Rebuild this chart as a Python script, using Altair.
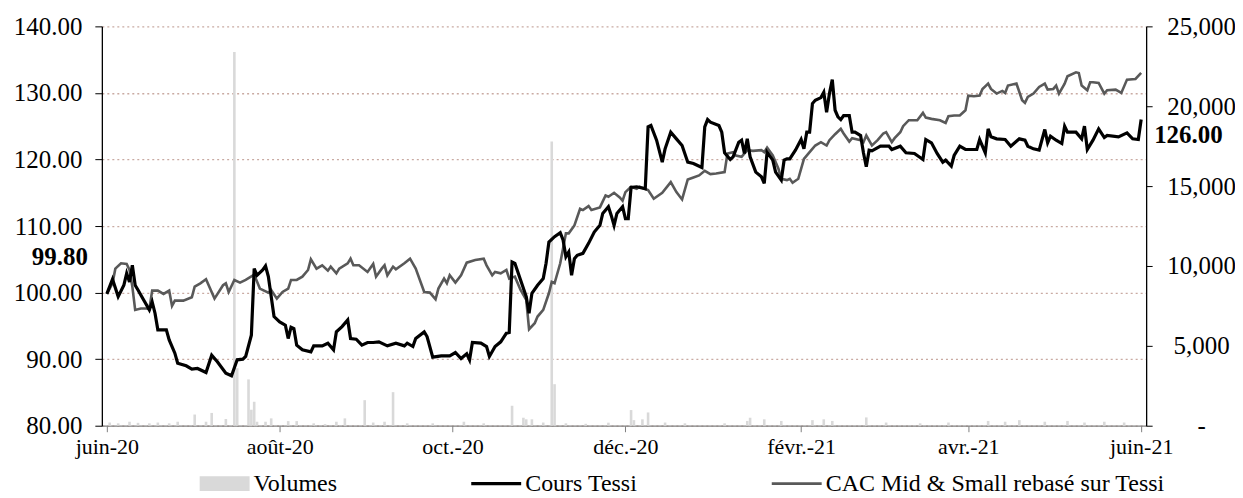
import altair as alt
import pandas as pd

FONT = "Liberation Serif"

tessi_dates = ["2020-06-01","2020-06-03","2020-06-05","2020-06-07","2020-06-08","2020-06-09","2020-06-10","2020-06-11","2020-06-12","2020-06-14",
"2020-06-16","2020-06-17","2020-06-18","2020-06-19","2020-06-22","2020-06-23","2020-06-25","2020-06-26","2020-06-29","2020-07-01",
"2020-07-03","2020-07-06","2020-07-08","2020-07-10","2020-07-13","2020-07-15","2020-07-17","2020-07-19","2020-07-20","2020-07-22",
"2020-07-23","2020-07-24","2020-07-26","2020-07-27","2020-07-28","2020-07-30","2020-08-01","2020-08-03","2020-08-04","2020-08-05",
"2020-08-06","2020-08-07","2020-08-09","2020-08-12","2020-08-13","2020-08-16","2020-08-18","2020-08-20","2020-08-21","2020-08-23",
"2020-08-25","2020-08-26","2020-08-28","2020-08-30","2020-09-01","2020-09-03","2020-09-05","2020-09-08","2020-09-11","2020-09-14",
"2020-09-15","2020-09-17","2020-09-18","2020-09-21","2020-09-22","2020-09-24","2020-09-27","2020-09-30","2020-10-02","2020-10-04",
"2020-10-06","2020-10-07","2020-10-08","2020-10-11","2020-10-13","2020-10-14","2020-10-16","2020-10-18","2020-10-20","2020-10-21",
"2020-10-22","2020-10-23","2020-10-25","2020-10-27","2020-10-28","2020-10-29","2020-10-31","2020-11-02","2020-11-03","2020-11-04",
"2020-11-06","2020-11-08","2020-11-09","2020-11-10","2020-11-11","2020-11-12","2020-11-13","2020-11-14","2020-11-16","2020-11-18",
"2020-11-20","2020-11-22","2020-11-23","2020-11-25","2020-11-26","2020-11-27","2020-11-28","2020-11-30","2020-12-01","2020-12-02",
"2020-12-03","2020-12-05","2020-12-08","2020-12-09","2020-12-10","2020-12-12","2020-12-14","2020-12-15","2020-12-17","2020-12-19",
"2020-12-21","2020-12-23","2020-12-25","2020-12-28","2020-12-29","2020-12-30","2020-12-31","2021-01-03","2021-01-04","2021-01-05",
"2021-01-07","2021-01-08","2021-01-10","2021-01-11","2021-01-12","2021-01-13","2021-01-14","2021-01-16","2021-01-18","2021-01-19",
"2021-01-20","2021-01-22","2021-01-23","2021-01-25","2021-01-26","2021-01-27","2021-01-28","2021-01-30","2021-02-01","2021-02-02",
"2021-02-03","2021-02-04","2021-02-05","2021-02-06","2021-02-08","2021-02-09","2021-02-10","2021-02-11","2021-02-12","2021-02-13",
"2021-02-14","2021-02-15","2021-02-16","2021-02-18","2021-02-19","2021-02-20","2021-02-22","2021-02-23","2021-02-24","2021-02-25",
"2021-02-26","2021-03-01","2021-03-04","2021-03-05","2021-03-08","2021-03-10","2021-03-13","2021-03-16","2021-03-17","2021-03-19",
"2021-03-21","2021-03-23","2021-03-24","2021-03-26","2021-03-27","2021-03-29","2021-03-31","2021-04-04","2021-04-05","2021-04-07",
"2021-04-08","2021-04-09","2021-04-11","2021-04-14","2021-04-16","2021-04-19","2021-04-21","2021-04-22","2021-04-24","2021-04-26",
"2021-04-28","2021-04-29","2021-04-30","2021-05-02","2021-05-04","2021-05-05","2021-05-06","2021-05-09","2021-05-11","2021-05-12",
"2021-05-13","2021-05-15","2021-05-17","2021-05-19","2021-05-20","2021-05-24","2021-05-27","2021-05-29","2021-05-31","2021-06-01"]
tessi_values = [99.8,102.0,99.4,101.1,102.9,101.6,104.1,101.1,100.4,98.9,
97.4,98.6,96.9,94.4,94.4,92.9,90.9,89.4,89.0,88.5,
88.6,88.0,90.6,89.6,87.9,87.5,89.9,90.0,90.4,93.6,
103.6,102.6,103.4,104.0,102.4,96.4,95.6,95.1,93.1,94.8,
94.6,92.1,91.4,91.1,92.0,92.0,92.4,91.4,94.1,94.9,
95.9,93.1,93.0,92.1,92.5,92.5,92.6,92.0,92.4,92.0,
92.4,91.9,93.1,94.1,93.4,90.3,90.5,90.5,91.0,90.1,
90.8,89.9,92.5,92.4,91.9,90.4,91.9,92.6,93.9,94.0,
104.6,104.4,101.9,99.4,96.9,99.9,101.1,102.1,104.4,107.6,
108.4,109.0,107.9,105.4,106.1,102.6,105.1,105.6,105.9,107.4,
109.1,110.1,111.9,112.9,111.6,110.1,111.9,112.9,111.1,111.1,
115.8,115.9,115.6,124.9,125.1,122.9,119.6,121.6,124.1,123.1,
122.1,119.6,119.4,118.8,124.9,126.0,125.6,125.1,124.1,121.0,
120.0,120.4,122.6,122.9,120.9,123.1,120.4,118.1,117.4,116.4,
121.1,119.9,118.1,116.9,119.9,120.1,120.1,121.4,123.0,121.6,
124.1,124.1,128.4,128.9,129.3,130.1,127.1,129.9,132.0,127.4,
126.4,126.0,126.6,126.6,124.1,124.1,123.6,121.0,118.9,121.4,
121.3,122.0,122.0,121.5,122.0,121.0,120.9,120.0,123.0,122.5,
120.9,119.6,119.9,119.0,120.6,122.0,121.5,121.5,123.0,121.0,
124.6,123.4,123.1,123.0,122.0,123.1,122.9,122.0,121.6,121.4,
124.5,122.5,123.5,122.9,122.4,125.0,124.1,124.1,123.1,125.0,
121.5,122.9,124.6,123.3,123.6,123.4,124.0,123.1,123.0,126.0]

cac_dates = ["2020-06-01","2020-06-03","2020-06-04","2020-06-06","2020-06-08","2020-06-09","2020-06-10","2020-06-11","2020-06-13","2020-06-15",
"2020-06-16","2020-06-17","2020-06-19","2020-06-21","2020-06-23","2020-06-24","2020-06-25","2020-06-28","2020-07-01","2020-07-02",
"2020-07-04","2020-07-06","2020-07-09","2020-07-12","2020-07-13","2020-07-14","2020-07-16","2020-07-18","2020-07-20","2020-07-23",
"2020-07-25","2020-07-28","2020-07-29","2020-07-31","2020-08-02","2020-08-04","2020-08-05","2020-08-07","2020-08-09","2020-08-11",
"2020-08-12","2020-08-14","2020-08-16","2020-08-18","2020-08-19","2020-08-21","2020-08-22","2020-08-25","2020-08-26","2020-08-27",
"2020-08-29","2020-09-01","2020-09-03","2020-09-04","2020-09-06","2020-09-07","2020-09-08","2020-09-10","2020-09-11","2020-09-14",
"2020-09-16","2020-09-18","2020-09-21","2020-09-23","2020-09-25","2020-09-26","2020-09-28","2020-09-29","2020-09-30","2020-10-02",
"2020-10-04","2020-10-06","2020-10-09","2020-10-12","2020-10-13","2020-10-15","2020-10-16","2020-10-18","2020-10-20","2020-10-21",
"2020-10-23","2020-10-25","2020-10-27","2020-10-28","2020-10-30","2020-10-31","2020-11-02","2020-11-04","2020-11-05","2020-11-06",
"2020-11-08","2020-11-10","2020-11-11","2020-11-13","2020-11-15","2020-11-16","2020-11-18","2020-11-19","2020-11-22","2020-11-24",
"2020-11-25","2020-11-27","2020-11-29","2020-11-30","2020-12-01","2020-12-03","2020-12-05","2020-12-06","2020-12-09","2020-12-11",
"2020-12-14","2020-12-17","2020-12-19","2020-12-21","2020-12-23","2020-12-25","2020-12-27","2020-12-29","2020-12-31","2021-01-02",
"2021-01-05","2021-01-06","2021-01-08","2021-01-09","2021-01-11","2021-01-13","2021-01-15","2021-01-18","2021-01-19","2021-01-20",
"2021-01-22","2021-01-24","2021-01-25","2021-01-27","2021-01-28","2021-01-29","2021-01-31","2021-02-02","2021-02-04","2021-02-06",
"2021-02-08","2021-02-10","2021-02-11","2021-02-13","2021-02-15","2021-02-16","2021-02-18","2021-02-19","2021-02-22","2021-02-23",
"2021-02-24","2021-02-26","2021-02-28","2021-03-02","2021-03-03","2021-03-05","2021-03-06","2021-03-08","2021-03-09","2021-03-11",
"2021-03-14","2021-03-16","2021-03-17","2021-03-19","2021-03-22","2021-03-24","2021-03-25","2021-03-27","2021-03-29","2021-03-31",
"2021-04-01","2021-04-03","2021-04-05","2021-04-06","2021-04-08","2021-04-09","2021-04-11","2021-04-13","2021-04-14","2021-04-15",
"2021-04-18","2021-04-20","2021-04-21","2021-04-22","2021-04-24","2021-04-26","2021-04-28","2021-04-29","2021-05-01","2021-05-02",
"2021-05-03","2021-05-05","2021-05-06","2021-05-09","2021-05-10","2021-05-11","2021-05-13","2021-05-14","2021-05-15","2021-05-17",
"2021-05-19","2021-05-20","2021-05-23","2021-05-25","2021-05-27","2021-05-30","2021-06-01"]
cac_values = [99.8,101.4,103.6,104.4,104.3,103.4,100.9,97.4,97.6,97.6,
97.5,100.3,100.3,99.8,100.3,98.0,98.8,98.8,99.3,100.9,
101.4,102.0,99.1,101.1,101.4,100.1,101.9,101.5,101.9,102.7,
100.6,100.0,100.4,99.1,100.1,100.6,101.9,101.9,102.4,103.4,
105.0,103.6,104.1,103.3,103.9,102.9,103.6,104.4,105.1,104.1,
104.1,103.1,104.3,102.4,103.6,104.1,102.6,103.9,103.5,104.4,
105.1,103.6,100.1,100.0,99.0,100.6,102.1,101.4,102.6,101.5,
102.6,104.5,104.9,105.1,104.1,102.6,103.1,102.9,103.4,102.1,
102.4,100.4,98.9,94.5,95.4,96.4,97.4,99.9,101.6,101.4,
104.4,108.9,108.9,110.1,112.6,112.4,113.0,112.4,112.8,114.6,
114.4,115.0,114.3,113.8,115.1,115.9,115.6,115.9,115.4,114.1,
115.0,116.6,115.1,114.0,117.0,117.3,117.6,118.3,117.8,117.9,
118.1,120.9,121.1,120.6,120.4,121.4,121.3,121.4,121.1,121.8,
120.6,118.6,117.1,116.9,117.1,116.5,117.1,120.1,121.1,122.1,
122.6,122.1,122.9,123.8,124.6,123.9,122.7,123.2,122.9,122.6,
123.6,122.1,122.9,123.9,124.1,122.6,123.2,124.1,125.0,125.9,
125.9,127.0,126.3,126.1,125.9,125.5,126.5,126.6,126.6,127.4,
129.6,129.5,129.6,130.6,131.4,130.6,129.9,130.3,130.0,131.1,
131.4,128.9,128.5,129.4,129.9,130.9,131.4,130.5,130.6,131.1,
129.9,131.4,132.5,133.1,133.0,131.1,130.4,131.6,131.6,131.5,
129.9,130.4,130.5,130.0,132.0,132.1,133.0]

vol_dates = ["2020-06-02","2020-06-05","2020-06-09","2020-06-12","2020-06-16","2020-06-19","2020-06-23","2020-06-26","2020-07-02","2020-07-06",
"2020-07-08","2020-07-13","2020-07-16","2020-07-17","2020-07-21","2020-07-22","2020-07-23","2020-07-24","2020-07-27","2020-07-29",
"2020-08-04","2020-08-07","2020-08-13","2020-08-17","2020-08-21","2020-08-24","2020-08-31","2020-09-03","2020-09-07","2020-09-10",
"2020-09-15","2020-09-24","2020-10-05","2020-10-12","2020-10-22","2020-10-26","2020-10-27","2020-10-29","2020-11-02","2020-11-05",
"2020-11-06","2020-11-10","2020-11-17","2020-11-25","2020-12-03","2020-12-04","2020-12-07","2020-12-09","2020-12-15","2020-12-22",
"2021-01-05","2021-01-13","2021-01-14","2021-01-19","2021-01-25","2021-02-05","2021-02-09","2021-02-12","2021-02-24","2021-03-03",
"2021-03-15","2021-03-25","2021-04-08","2021-04-14","2021-04-19","2021-04-28","2021-05-06","2021-05-12","2021-05-19","2021-05-26"]
vol_values = [200,150,250,180,150,200,150,250,700,250,
800,420,23400,3600,2900,1000,1500,250,250,460,
290,290,150,100,250,460,1600,200,250,2100,
150,150,250,150,1250,500,400,400,200,17800,
2600,150,120,190,980,350,400,830,200,150,
150,300,500,400,300,350,400,300,520,200,
150,200,300,250,350,250,300,200,250,200]

series_names = ["Volumes", "Cours Tessi", "CAC Mid & Small rebasé sur Tessi"]
series_colors = ["#d9d9d9", "#000000", "#595959"]
symbol_paths = ["M-1,-0.3H1V0.3H-1Z", "M-1,-0.065H1V0.065H-1Z", "M-1,-0.055H1V0.055H-1Z"]

tick_dates = ["2020-06-01", "2020-08-01", "2020-10-01", "2020-12-01", "2021-02-01", "2021-04-01", "2021-06-01"]
tick_labels = ["juin-20", "août-20", "oct.-20", "déc.-20", "févr.-21", "avr.-21", "juin-21"]
price_ticks = [80, 90, 100, 110, 120, 130, 140]
volume_ticks = [0, 5000, 10000, 15000, 20000, 25000]

tessi = pd.DataFrame({"date": pd.to_datetime(tessi_dates), "value": tessi_values})
cac = pd.DataFrame({"date": pd.to_datetime(cac_dates), "value": cac_values})
vol = pd.DataFrame({"date": pd.to_datetime(vol_dates), "volume": vol_values})
first_pt = tessi.iloc[[0]].assign(label=lambda d: d["value"].map(lambda v: f"{v:.2f}"))
last_pt = tessi.iloc[[-1]].assign(label=lambda d: d["value"].map(lambda v: f"{v:.2f}"))


def dt(s):
    y, m, d = (int(p) for p in s.split("-"))
    return alt.DateTime(year=y, month=m, date=d)


label_expr = ""
for s, lab in zip(tick_dates, tick_labels):
    y, m, _ = (int(p) for p in s.split("-"))
    label_expr += f"(year(datum.value)=={y} && month(datum.value)=={m - 1}) ? '{lab}' : "
label_expr += "''"

x_enc = alt.X(
    "date:T",
    scale=alt.Scale(domain=[dt(tick_dates[0]), dt(tick_dates[-1])], nice=False),
    axis=alt.Axis(
        values=[dt(s) for s in tick_dates], labelExpr=label_expr, title=None, grid=False,
        tickSize=6, tickColor="#7f7f7f", domainColor="#7f7f7f", domainWidth=1.3,
        labelPadding=5, labelFont=FONT, labelFontSize=22, labelColor="black",
        labelOverlap=False, labelFlush=False,
    ),
)

y_price = alt.Y(
    "value:Q",
    scale=alt.Scale(domain=[80, 140], nice=False, zero=False),
    axis=alt.Axis(
        values=price_ticks, format=".2f", title=None, grid=True, gridDash=[2, 3],
        gridColor="#c9aaa2", gridWidth=1.3, domainColor="black", domainWidth=1.3,
        tickColor="black", tickSize=7, labelPadding=13, labelFont=FONT,
        labelFontSize=25, labelColor="black",
    ),
)

nbsp = "\u00a0" * 7
y_vol = alt.Y(
    "volume:Q",
    scale=alt.Scale(domain=[0, 25000], nice=False),
    axis=alt.Axis(
        orient="right", values=volume_ticks, title=None, grid=False,
        labelExpr=f"datum.value == 0 ? '-{nbsp}' : format(datum.value, ',')",
        domainColor="black", domainWidth=1.3, tickColor="black", tickSize=6,
        labelAlign="center", labelPadding=49, labelFont=FONT, labelFontSize=25,
        labelColor="black",
    ),
)

bars = alt.Chart(vol).mark_bar(color=series_colors[0], size=2.6).encode(x=x_enc, y=y_vol)

cac_line = alt.Chart(cac).mark_line(color=series_colors[2], strokeWidth=2.6).encode(x=x_enc, y=y_price)
tessi_line = alt.Chart(tessi).mark_line(color=series_colors[1], strokeWidth=3.2).encode(x=x_enc, y=y_price)

first_lab = alt.Chart(first_pt).mark_text(
    align="right", baseline="middle", dx=-19, dy=-37, font=FONT, fontSize=25, fontWeight="bold", color="black"
).encode(x=x_enc, y=y_price, text="label:N")
last_lab = alt.Chart(last_pt).mark_text(
    align="left", baseline="middle", dx=13, dy=15, font=FONT, fontSize=25, fontWeight="bold", color="black"
).encode(x=x_enc, y=y_price, text="label:N")

leg = alt.Legend(
    title=None, orient="none", legendX=98, legendY=433, direction="horizontal", columns=3,
    symbolSize=2500, symbolStrokeWidth=0, labelFont=FONT, labelFontSize=24, labelColor="black",
    labelOffset=4, columnPadding=134, padding=0, labelLimit=0,
)
legend_layer = alt.Chart(pd.DataFrame({"serie": series_names})).mark_point(filled=True, opacity=1).encode(
    color=alt.Color("serie:N", scale=alt.Scale(domain=series_names, range=series_colors), legend=leg),
    shape=alt.Shape("serie:N", scale=alt.Scale(domain=series_names, range=symbol_paths), legend=leg),
).transform_filter("false")

price_layers = alt.layer(cac_line, tessi_line, first_lab, last_lab, legend_layer)

chart = alt.layer(bars, price_layers).resolve_scale(y="independent").properties(
    width=1046, height=400,
    autosize=alt.AutoSizeParams(type="none"),
    padding={"left": 94, "top": 18, "right": 89, "bottom": 72},
    background="white",
).configure_view(strokeWidth=0)

chart.save("out.html", embed_options={"renderer": "svg", "actions": False})
